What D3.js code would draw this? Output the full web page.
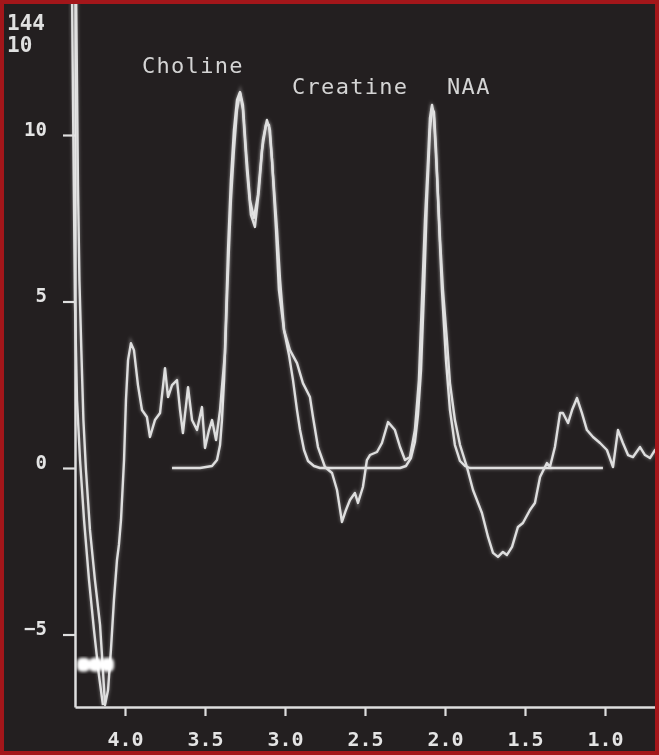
<!DOCTYPE html>
<html>
<head>
<meta charset="utf-8">
<script src="https://cdn.jsdelivr.net/npm/d3@7"></script>
<style>
  html, body { margin: 0; padding: 0; background: #231f20; }
  svg { display: block; }
</style>
</head>
<body>
<div id="chart"></div>
<script>
//********************************************************//
//                 Asignacion de variables                //
//********************************************************//
var chart_width = 659;
var chart_height = 755;

// ticks y textos
var ticksX = [4.0, 3.5, 3.0, 2.5, 2.0, 1.5, 1.0];
var ticksY = [10, 5, 0, -5];
var cabecera = ["144", "10"];
var picos = ["Choline", "Creatine", "NAA"];

// espectro medido [ppm, valor]
var espectro = [
  [4.306, 14.35], [4.300, 11.50], [4.294, 8.50], [4.285, 5.65], [4.273, 3.54], [4.260, 1.44],
  [4.244, -0.06], [4.219, -1.86], [4.188, -3.36], [4.156, -4.71], [4.138, -6.07],
  [4.125, -7.12], [4.106, -6.67], [4.088, -5.47], [4.069, -3.96], [4.050, -2.76],
  [4.038, -2.31], [4.025, -1.56], [4.006, 0.24], [3.994, 2.04], [3.981, 3.24],
  [3.963, 3.75], [3.944, 3.54], [3.919, 2.49], [3.894, 1.74], [3.863, 1.53],
  [3.844, 0.93], [3.813, 1.44], [3.781, 1.65], [3.750, 3.00], [3.731, 2.13],
  [3.706, 2.49], [3.675, 2.64], [3.656, 1.74], [3.638, 1.05], [3.606, 2.43],
  [3.581, 1.44], [3.550, 1.14], [3.519, 1.83], [3.500, 0.60], [3.475, 1.14],
  [3.456, 1.44], [3.431, 0.84], [3.406, 1.74], [3.394, 2.43], [3.375, 3.45],
  [3.363, 5.05], [3.350, 6.64], [3.338, 8.05], [3.319, 9.55], [3.300, 10.75],
  [3.281, 11.26], [3.263, 10.75], [3.238, 8.95], [3.213, 7.60], [3.188, 7.24],
  [3.163, 8.35], [3.138, 9.85], [3.113, 10.45], [3.094, 10.15], [3.075, 8.80],
  [3.050, 7.15], [3.031, 5.65], [3.006, 4.14], [2.969, 3.54], [2.925, 3.15],
  [2.888, 2.55], [2.844, 2.13], [2.825, 1.53], [2.794, 0.63], [2.750, 0.03],
  [2.706, -0.15], [2.675, -0.66], [2.644, -1.62], [2.619, -1.26], [2.594, -0.96],
  [2.563, -0.75], [2.544, -1.05], [2.513, -0.57], [2.488, 0.24], [2.469, 0.39],
  [2.425, 0.48], [2.394, 0.75], [2.356, 1.38], [2.313, 1.14], [2.281, 0.63],
  [2.250, 0.24], [2.219, 0.33], [2.188, 1.14], [2.163, 2.64], [2.144, 5.05],
  [2.125, 7.45], [2.106, 9.25], [2.094, 10.51], [2.081, 10.90], [2.069, 10.51],
  [2.050, 8.80], [2.031, 6.85], [2.013, 5.35], [1.988, 3.84], [1.969, 2.55],
  [1.938, 1.44], [1.906, 0.69], [1.863, 0.03], [1.825, -0.66], [1.769, -1.35],
  [1.731, -2.07], [1.700, -2.55], [1.669, -2.67], [1.638, -2.52], [1.613, -2.61],
  [1.581, -2.37], [1.544, -1.77], [1.513, -1.65], [1.469, -1.26], [1.438, -1.05],
  [1.406, -0.27], [1.363, 0.15], [1.344, 0.03], [1.313, 0.63], [1.281, 1.65],
  [1.263, 1.65], [1.231, 1.35], [1.206, 1.74], [1.175, 2.10], [1.144, 1.65],
  [1.113, 1.14], [1.075, 0.93], [1.031, 0.75], [0.988, 0.54], [0.950, 0.03],
  [0.919, 1.14], [0.888, 0.75], [0.856, 0.39], [0.825, 0.33], [0.781, 0.63],
  [0.750, 0.39], [0.719, 0.30], [0.688, 0.54], [0.656, 0.39]
];

// curva ajustada [ppm, valor]
var ajuste = [
  [3.706, 0.00], [3.531, 0.00], [3.456, 0.06], [3.425, 0.24], [3.406, 0.69],
  [3.394, 1.44], [3.381, 2.64], [3.369, 4.44], [3.356, 6.55], [3.338, 8.65],
  [3.319, 10.15], [3.300, 11.05], [3.281, 11.29], [3.263, 10.90], [3.244, 9.55],
  [3.219, 8.05], [3.194, 7.51], [3.169, 8.20], [3.144, 9.55], [3.119, 10.30],
  [3.100, 10.30], [3.081, 9.25], [3.056, 7.15], [3.038, 5.35], [3.006, 4.14],
  [2.975, 3.39], [2.950, 2.64], [2.925, 1.74], [2.906, 1.14], [2.881, 0.54],
  [2.856, 0.21], [2.819, 0.06], [2.781, 0.00], [2.281, 0.00], [2.244, 0.06],
  [2.213, 0.30], [2.188, 0.78], [2.169, 1.59], [2.150, 2.94], [2.131, 5.35],
  [2.113, 8.05], [2.094, 10.15], [2.081, 10.81], [2.069, 10.69], [2.056, 9.55],
  [2.038, 7.45], [2.019, 5.35], [1.994, 3.24], [1.969, 1.74], [1.938, 0.69],
  [1.906, 0.21], [1.875, 0.06], [1.844, 0.00], [1.013, 0.00]
];

// cola del pico de agua [ppm, valor]
var agua = [
  [4.331, 14.35], [4.325, 11.05], [4.319, 8.05], [4.313, 5.05], [4.300, 2.04],
  [4.281, 0.24], [4.256, -1.56], [4.225, -3.36], [4.194, -4.86], [4.163, -6.22],
  [4.138, -7.12]
];

var colorLinea = "#dedede";

//********************************************************//
//                      Crear SVG                         //
//********************************************************//
var svg = d3.select("#chart")
  .append("svg")
  .attr("width", chart_width)
  .attr("height", chart_height);

svg.append("rect")
  .attr("width", chart_width)
  .attr("height", chart_height)
  .style("fill", "#231f20");

var defs = svg.append("defs");
defs.append("filter")
  .attr("id", "brillo")
  .attr("x", "-10%").attr("y", "-10%")
  .attr("width", "120%").attr("height", "120%")
  .append("feGaussianBlur")
  .attr("stdDeviation", 1.6);

defs.append("filter")
  .attr("id", "suave")
  .append("feGaussianBlur")
  .attr("stdDeviation", 0.4);

// Escalas
var escalaX = d3.scaleLinear()
  .domain([4.3125, 0.6625])
  .range([75, 659]);

var escalaY = d3.scaleLinear()
  .domain([-7.177, 14.054])
  .range([707, 0]);

// Ejes
var ejeX = d3.axisBottom(escalaX)
  .tickValues(ticksX)
  .tickFormat(d3.format(".1f"))
  .tickSize(9)
  .tickSizeOuter(0)
  .tickPadding(16);

var ejeY = d3.axisLeft(escalaY)
  .tickValues(ticksY)
  .tickFormat(d3.format("d"))
  .tickSize(12)
  .tickSizeOuter(0)
  .tickPadding(16);

var gX = svg.append("g")
  .attr("transform", "translate(0," + escalaY.range()[0] + ")")
  .call(ejeX);

var gY = svg.append("g")
  .attr("transform", "translate(" + escalaX.range()[0] + ",0)")
  .call(ejeY);

[gX, gY].forEach(function (g) {
  g.select(".domain").attr("stroke", colorLinea).attr("stroke-width", 2.5);
  g.selectAll(".tick line").attr("stroke", colorLinea).attr("stroke-width", 2.2);
  g.selectAll(".tick text")
    .style("fill", "#e4e4e4")
    .style("font-family", "'DejaVu Sans Mono', monospace")
    .style("font-weight", "bold")
    .attr("filter", "url(#suave)");
});
gX.selectAll(".tick text").style("font-size", "20px");
gY.selectAll(".tick text").style("font-size", "19px").attr("dy", "0.02em");

//********************************************************//
//                   pintar las lineas                    //
//********************************************************//
var line = d3.line()
  .x(function (d) { return escalaX(d[0]); })
  .y(function (d) { return escalaY(d[1]); });

var capas = svg.append("g");

[agua, ajuste, espectro].forEach(function (serie) {
  // halo suave (foto de pantalla)
  capas.append("path")
    .datum(serie)
    .attr("fill", "none")
    .attr("stroke", "#ffffff")
    .attr("stroke-width", 4)
    .attr("stroke-opacity", 0.25)
    .attr("filter", "url(#brillo)")
    .attr("d", line);
  capas.append("path")
    .datum(serie)
    .attr("fill", "none")
    .attr("stroke", colorLinea)
    .attr("stroke-width", 2.4)
    .attr("stroke-linejoin", "round")
    .attr("d", line);
});

// marca brillante cerca del fondo del pico de agua
var marca = svg.append("g").attr("filter", "url(#brillo)");
[4.30, 4.225, 4.15].forEach(function (p) {
  marca.append("rect")
    .attr("x", escalaX(p))
    .attr("y", escalaY(-5.7))
    .attr("width", 13)
    .attr("height", 14)
    .attr("rx", 5)
    .style("fill", "#ffffff");
});

//********************************************************//
//                   textos y etiquetas                   //
//********************************************************//
var fuente = "'DejaVu Sans Mono', monospace";

svg.selectAll(".cabecera")
  .data(cabecera)
  .enter()
  .append("text")
  .attr("class", "cabecera")
  .attr("x", 7)
  .attr("y", function (d, i) { return 30 + i * 22; })
  .text(function (d) { return d; })
  .style("font-family", fuente)
  .style("font-weight", "bold")
  .style("font-size", "21px")
  .style("fill", "#e0e0e0")
  .attr("filter", "url(#suave)");

// posicion de cada etiqueta [ppm, valor] de la esquina izquierda
var posPicos = [[3.894, 11.85], [2.956, 11.22], [1.987, 11.22]];

svg.selectAll(".pico")
  .data(picos)
  .enter()
  .append("text")
  .attr("class", "pico")
  .attr("x", function (d, i) { return escalaX(posPicos[i][0]); })
  .attr("y", function (d, i) { return escalaY(posPicos[i][1]); })
  .text(function (d) { return d; })
  .style("font-family", fuente)
  .style("font-size", "22px")
  .style("letter-spacing", "1.3px")
  .style("fill", "#d4d4d4")
  .attr("filter", "url(#suave)");

// Marco rojo
svg.append("rect")
  .attr("x", 1.5)
  .attr("y", 1.5)
  .attr("width", chart_width - 3)
  .attr("height", chart_height - 3)
  .style("fill", "none")
  .style("stroke", "#a3161a")
  .style("stroke-width", 5);
</script>
</body>
</html>
